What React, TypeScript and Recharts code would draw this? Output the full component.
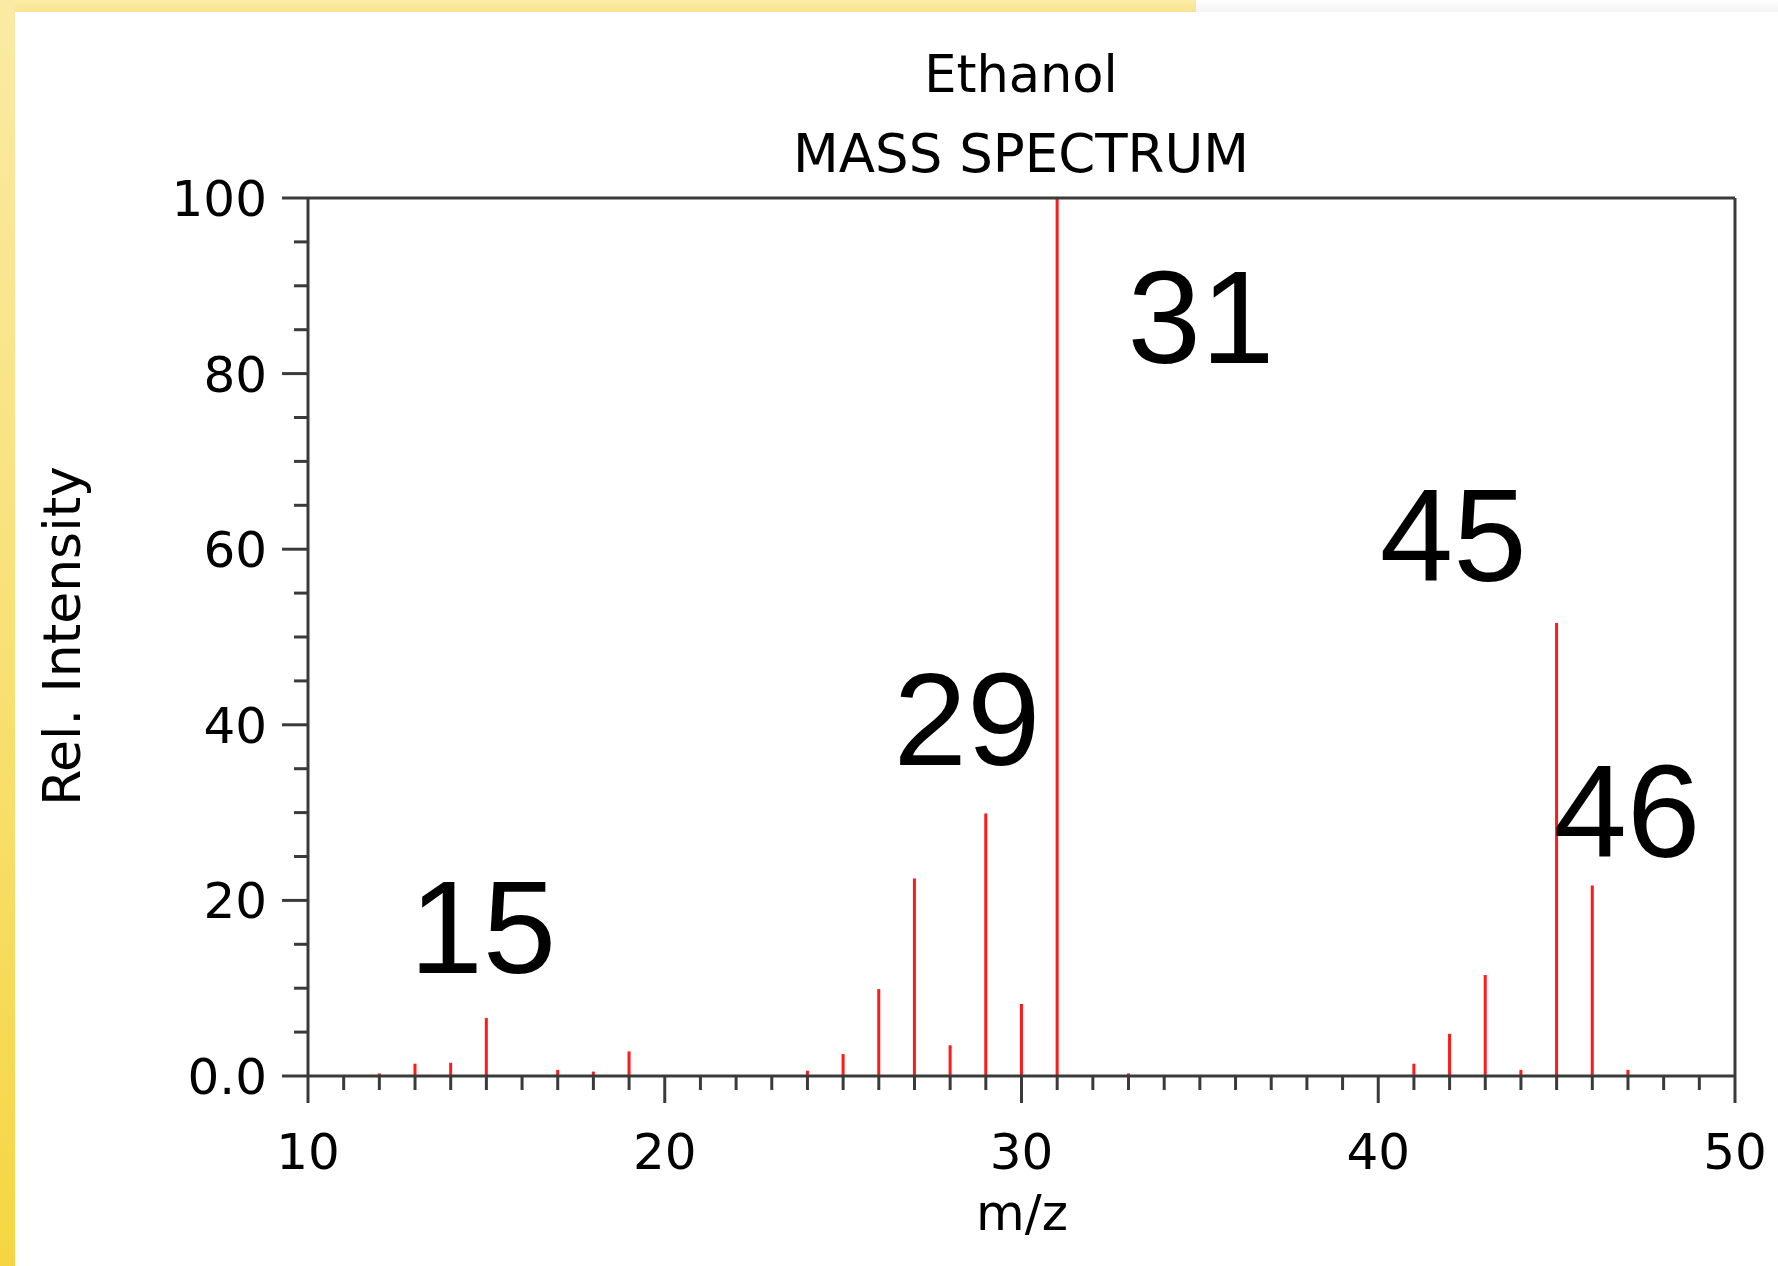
import React from 'react';
import { ComposedChart, Bar, Scatter, XAxis, YAxis, ReferenceLine } from 'recharts';

// ---- data ----
const mzValues = [12, 13, 14, 15, 17, 18, 19, 24, 25, 26, 27, 28, 29, 30, 31, 33, 41, 42, 43, 44, 45, 46, 47];
const intensities = [0.3, 1.4, 1.5, 6.6, 0.7, 0.5, 2.8, 0.6, 2.5, 9.9, 22.5, 3.5, 29.9, 8.2, 100, 0.3, 1.4, 4.8, 11.5, 0.7, 51.6, 21.7, 0.7];

const xTicks = [10, 11, 12, 13, 14, 15, 16, 17, 18, 19, 20, 21, 22, 23, 24, 25, 26, 27, 28, 29, 30, 31, 32, 33, 34, 35, 36, 37, 38, 39, 40, 41, 42, 43, 44, 45, 46, 47, 48, 49, 50];
const xMajorTicks = [10, 20, 30, 40, 50];
const yTicks = [0, 5, 10, 15, 20, 25, 30, 35, 40, 45, 50, 55, 60, 65, 70, 75, 80, 85, 90, 95, 100];
const yMajorTicks = [0, 20, 40, 60, 80, 100];
const yTickLabels = ['0.0', '20', '40', '60', '80', '100'];

const annotationTexts = ['15', '29', '31', '45', '46'];
const annotationMz = [14.9, 28.47, 35.03, 42.1, 46.97];
const annotationLevel = [11.7, 35.4, 81.2, 56.4, 25.0];

const titleLines = ['Ethanol', 'MASS SPECTRUM'];
const xAxisTitle = 'm/z';
const yAxisTitle = 'Rel. Intensity';

// ---- derived tables ----
const peakData = mzValues.map((mz, i) => ({ mz, intensity: intensities[i] }));
const annotationData = annotationTexts.map((t, i) => ({ mz: annotationMz[i], level: annotationLevel[i], text: t }));

const AXIS_COLOR = '#3a3a3a';
const TICK_FONT = '"DejaVu Sans", sans-serif';

const XTick = (props: any) => {
  const { x, y, payload } = props;
  const v = payload.value;
  const major = xMajorTicks.includes(v);
  return (
    <g>
      <line x1={x} x2={x} y1={y} y2={y + (major ? 27 : 14)} stroke={AXIS_COLOR} strokeWidth={3} />
      {major && (
        <text x={x} y={y + 93} textAnchor="middle" fontFamily={TICK_FONT} fontSize={50} fill="#000">
          {v}
        </text>
      )}
    </g>
  );
};

const YTick = (props: any) => {
  const { x, y, payload } = props;
  const v = payload.value;
  const idx = yMajorTicks.indexOf(v);
  const major = idx >= 0;
  return (
    <g>
      <line x1={x - (major ? 26 : 14)} x2={x} y1={y} y2={y} stroke={AXIS_COLOR} strokeWidth={3} />
      {major && (
        <text x={x - 41} y={y + 18} textAnchor="end" fontFamily={TICK_FONT} fontSize={50} fill="#000">
          {yTickLabels[idx]}
        </text>
      )}
    </g>
  );
};

const PeakShape = (props: any) => {
  const { x, y, width, height } = props;
  if (height == null || height <= 0) return null;
  const cx = x + width / 2;
  return <rect x={cx - 1.5} y={y} width={3} height={height} fill="#ff1a1a" />;
};

const AnnotationShape = (props: any) => {
  const { cx, cy, payload } = props;
  return (
    <text x={cx} y={cy} textAnchor="middle" fontFamily='"Liberation Sans", Arial, sans-serif' fontSize={132} fill="#000">
      {payload.text}
    </text>
  );
};

export default function App() {
  return (
    <div style={{ position: 'absolute', left: 0, top: 0, width: 1778, height: 1266, background: '#fff', overflow: 'hidden' }}>
      <div style={{ position: 'absolute', left: 0, top: 0, width: 1196, height: 12, background: 'linear-gradient(to bottom, #fbeca6, #f8e38f)' }} />
      <div style={{ position: 'absolute', left: 1196, top: 0, width: 582, height: 12, background: 'linear-gradient(to bottom, #ffffff, #f3f3f3)' }} />
      <div style={{ position: 'absolute', left: 0, top: 0, width: 15, height: 1266, background: 'linear-gradient(to bottom, #fbeaa4, #f7df6c 60%, #f5d641)' }} />
      <div style={{ position: 'absolute', left: 0, top: 0 }}>
        <ComposedChart
          width={1778}
          height={1266}
          data={peakData}
          margin={{ top: 198, right: 43, bottom: 90, left: 208 }}
        >
          <XAxis
            dataKey="mz"
            type="number"
            domain={[10, 50]}
            ticks={xTicks}
            interval={0}
            allowDataOverflow
            height={100}
            tickSize={0}
            tickMargin={0}
            tickLine={false}
            axisLine={{ stroke: AXIS_COLOR, strokeWidth: 3 }}
            tick={<XTick />}
          />
          <YAxis
            type="number"
            domain={[0, 100]}
            ticks={yTicks}
            interval={0}
            allowDataOverflow
            width={100}
            tickSize={0}
            tickMargin={0}
            tickLine={false}
            axisLine={{ stroke: AXIS_COLOR, strokeWidth: 3 }}
            tick={<YTick />}
          />
          <ReferenceLine y={100} stroke={AXIS_COLOR} strokeWidth={3} />
          <ReferenceLine x={50} stroke={AXIS_COLOR} strokeWidth={3} />
          <Bar dataKey="intensity" fill="#ff1a1a" barSize={3} shape={<PeakShape />} isAnimationActive={false} />
          <Scatter data={annotationData} dataKey="level" shape={<AnnotationShape />} isAnimationActive={false} />
        </ComposedChart>
      </div>
      <svg width={1778} height={1266} style={{ position: 'absolute', left: 0, top: 0, pointerEvents: 'none' }}>
        <text x={1021} y={92} textAnchor="middle" fontFamily={TICK_FONT} fontSize={51} fill="#000">{titleLines[0]}</text>
        <text x={1021} y={172} textAnchor="middle" fontFamily={TICK_FONT} fontSize={53} fill="#000">{titleLines[1]}</text>
        <text x={1022} y={1230} textAnchor="middle" fontFamily={TICK_FONT} fontSize={50} fill="#000">{xAxisTitle}</text>
        <text x={80} y={636} transform="rotate(-90, 80, 636)" textAnchor="middle" fontFamily={TICK_FONT} fontSize={52} fill="#000">{yAxisTitle}</text>
      </svg>
    </div>
  );
}
